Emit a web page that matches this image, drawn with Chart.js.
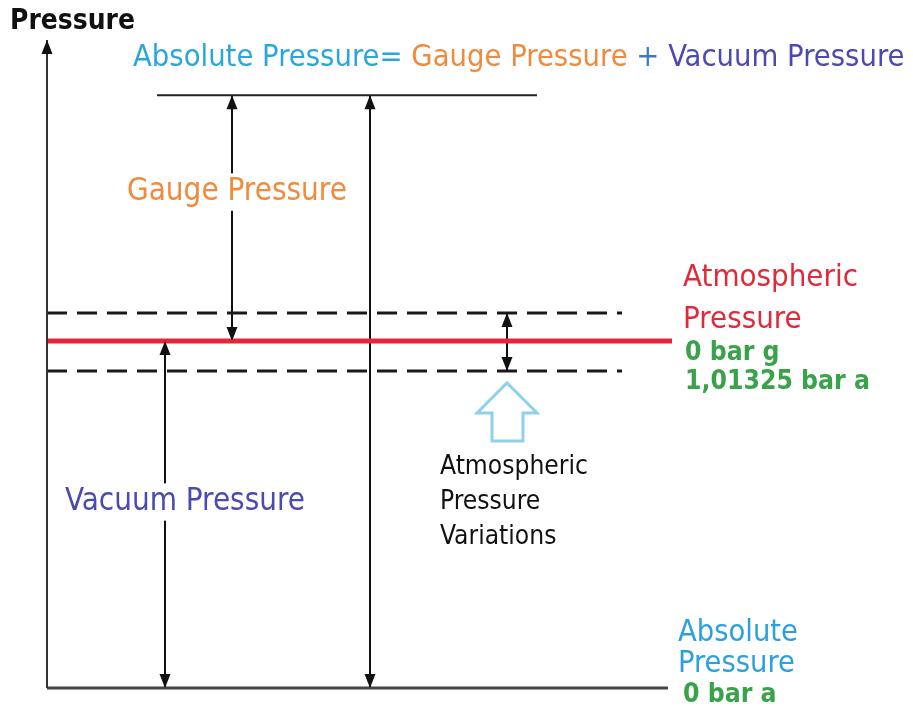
<!DOCTYPE html>
<html>
<head>
<meta charset="utf-8">
<script src="https://cdn.jsdelivr.net/npm/chart.js@4.4.1/dist/chart.umd.min.js"></script>
<style>
  html, body { margin: 0; padding: 0; background: #fff; overflow: hidden; }
  canvas { display: block; }
</style>
</head>
<body>
<canvas id="myChart" width="913" height="708"></canvas>
<script>
// pressure levels, bar (absolute)
const levelNames = ["Absolute zero", "Atm low", "Atmospheric", "Atm high", "Gauge reading", "Axis top"];
const levelBar = [0, 0.926, 1.01325, 1.095, 1.731, 1.892];

// measured spans (arrows between two levels)
const arrowNames = ["Vacuum Pressure", "Gauge Pressure", "Absolute Pressure", "Variations"];
const arrowFrom = ["Absolute zero", "Atmospheric", "Absolute zero", "Atm low"];
const arrowTo = ["Atmospheric", "Gauge reading", "Gauge reading", "Atm high"];

// right hand labels
const atmLabels = ["Atmospheric", "Pressure"];
const atmValues = ["0 bar g", "1,01325 bar a"];
const absLabels = ["Absolute", "Pressure"];
const absValues = ["0 bar a"];
const variationLabels = ["Atmospheric", "Pressure", "Variations"];

const lvl = name => levelBar[levelNames.indexOf(name)];

const FONT = "'DejaVu Sans Condensed', 'DejaVu Sans', sans-serif";
const arrowX = [165, 232, 370, 507];

function seg(x1, y1, x2, y2, color, width, dash, heads) {
  return {
    type: "line",
    data: [{ x: x1, y: y1 }, { x: x2, y: y2 }],
    borderColor: color,
    borderWidth: width,
    borderDash: dash || [],
    pointRadius: 0,
    fill: false,
    heads: heads || [],
  };
}

const datasets = [
  // axes
  seg(47, lvl("Absolute zero"), 47, lvl("Axis top"), "#333", 2, null, ["end"]),
  seg(47, lvl("Absolute zero"), 668, lvl("Absolute zero"), "#444", 3),
  // levels
  seg(157, lvl("Gauge reading"), 537, lvl("Gauge reading"), "#222", 2),
  seg(47, lvl("Atm high"), 622, lvl("Atm high"), "#1a1a1a", 3, [20, 10]),
  seg(47, lvl("Atm low"), 622, lvl("Atm low"), "#1a1a1a", 3, [20, 10]),
  seg(47, lvl("Atmospheric"), 672, lvl("Atmospheric"), "#e5263a", 5),
];
arrowNames.forEach((n, i) => {
  datasets.push(seg(arrowX[i], lvl(arrowFrom[i]), arrowX[i], lvl(arrowTo[i]), "#111", 2, null, ["start", "end"]));
});

function drawHead(ctx, fx, fy, tx, ty) {
  const a = Math.atan2(ty - fy, tx - fx);
  const len = 14, half = 5.5;
  ctx.save();
  ctx.fillStyle = "#111";
  ctx.translate(tx, ty);
  ctx.rotate(a);
  ctx.beginPath();
  ctx.moveTo(0, 0);
  ctx.lineTo(-len, -half);
  ctx.lineTo(-len, half);
  ctx.closePath();
  ctx.fill();
  ctx.restore();
}

function fitSize(ctx, text, width, weight) {
  ctx.font = weight + " 100px " + FONT;
  return 100 * width / ctx.measureText(text).width;
}

function label(ctx, text, x, y, color, size, weight, clear) {
  ctx.font = (weight || "normal") + " " + size + "px " + FONT;
  ctx.textBaseline = "middle";
  ctx.textAlign = "left";
  if (clear) {
    const w = ctx.measureText(text).width;
    ctx.fillStyle = "#fff";
    ctx.fillRect(x - 4, y - size * 0.6, w + 8, size * 1.2);
  }
  ctx.fillStyle = color;
  ctx.fillText(text, x, y);
}

const overlay = {
  id: "overlay",
  afterDatasetsDraw(chart) {
    const ctx = chart.ctx;
    const ys = chart.scales.y, xs = chart.scales.x;
    chart.data.datasets.forEach((ds, i) => {
      const pts = chart.getDatasetMeta(i).data;
      ds.heads.forEach(h => {
        if (h === "start") drawHead(ctx, pts[1].x, pts[1].y, pts[0].x, pts[0].y);
        else drawHead(ctx, pts[0].x, pts[0].y, pts[1].x, pts[1].y);
      });
    });

    // hollow arrow pointing up at variations
    const cx = xs.getPixelForValue(arrowX[3]);
    const tip = ys.getPixelForValue(lvl("Atm low")) + 12;
    ctx.save();
    ctx.strokeStyle = "#8fd0ee";
    ctx.lineWidth = 3;
    ctx.lineJoin = "miter";
    ctx.beginPath();
    ctx.moveTo(cx, tip);
    ctx.lineTo(cx + 30, tip + 30);
    ctx.lineTo(cx + 16, tip + 30);
    ctx.lineTo(cx + 16, tip + 58);
    ctx.lineTo(cx - 15, tip + 58);
    ctx.lineTo(cx - 15, tip + 30);
    ctx.lineTo(cx - 30, tip + 30);
    ctx.closePath();
    ctx.stroke();
    ctx.restore();

    // axis title
    label(ctx, "Pressure", 10, 22, "#111", fitSize(ctx, "Pressure", 125, "bold"), "bold");

    // formula title
    const parts = ["Absolute Pressure= ", "Gauge Pressure", " + ", "Vacuum Pressure"];
    const cols = ["#2ba6dc", "#f08a3c", "#3a78c8", "#4a4ab0"];
    const ts = fitSize(ctx, parts.join(""), 772, "normal");
    let tx = 133;
    parts.forEach((p, i) => {
      label(ctx, p, tx, 58, cols[i], ts);
      tx += ctx.measureText(p).width;
    });

    // span labels
    const gy = ys.getPixelForValue((lvl("Gauge reading") + lvl("Atmospheric")) / 2) - 26;
    label(ctx, arrowNames[1], 127, gy, "#f08a3c", fitSize(ctx, arrowNames[1], 220, "normal"), "normal", true);
    label(ctx, arrowNames[0], 65, 502, "#4a4ab0", fitSize(ctx, arrowNames[0], 240, "normal"), "normal", true);

    // variations text
    const vs = fitSize(ctx, variationLabels[0], 148, "normal");
    variationLabels.forEach((t, i) => label(ctx, t, 440, 467 + i * 35, "#111", vs));

    // atmospheric pressure labels
    const ay = ys.getPixelForValue(lvl("Atmospheric"));
    const rs = fitSize(ctx, atmLabels[0], 175, "normal");
    atmLabels.forEach((t, i) => label(ctx, t, 683, ay - 63 + i * 42, "#e02a3a", rs));
    const gs = fitSize(ctx, atmValues[1], 185, "bold");
    atmValues.forEach((t, i) => label(ctx, t, 685, ay + 12 + i * 29, "#3aa24a", gs, "bold"));

    // absolute zero labels
    const zy = ys.getPixelForValue(lvl("Absolute zero"));
    const bs = fitSize(ctx, absLabels[0], 120, "normal");
    absLabels.forEach((t, i) => label(ctx, t, 678, zy - 55 + i * 31, "#2ba0dc", bs));
    absValues.forEach(t => label(ctx, t, 683, zy + 7, "#3aa24a", gs, "bold"));
  }
};

new Chart(document.getElementById("myChart"), {
  type: "scatter",
  data: { datasets },
  options: {
    responsive: false,
    animation: false,
    layout: { padding: 0 },
    plugins: { legend: { display: false }, tooltip: { enabled: false } },
    scales: {
      x: { type: "linear", min: 0, max: 913, display: false },
      y: { type: "linear", min: -0.0584, max: 2.009, display: false },
    },
  },
  plugins: [overlay],
});
</script>
</body>
</html>
